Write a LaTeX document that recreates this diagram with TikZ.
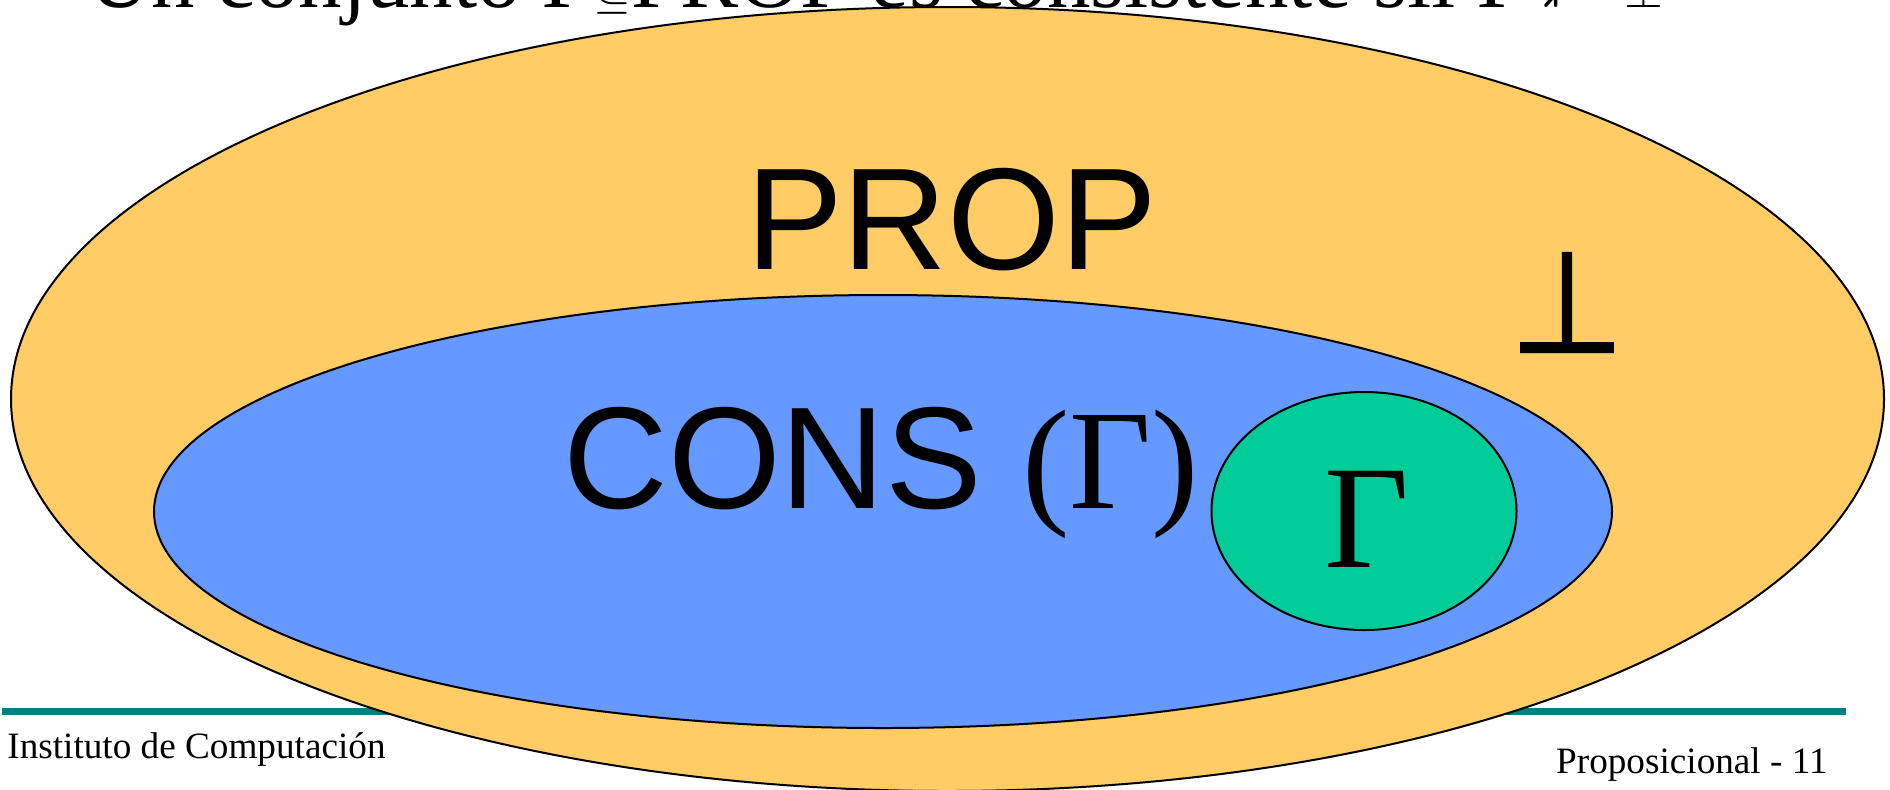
\documentclass[tikz,border=0pt]{standalone}
\usepackage{fontspec}
\usepackage{amssymb}
\usetikzlibrary{shapes.geometric}
\setmainfont{Liberation Serif}
\setsansfont{Liberation Sans}
\newfontfamily\symbolfont[FakeBold=1.6]{DejaVu Sans}
\definecolor{propfill}{HTML}{FFCC66}
\definecolor{consfill}{HTML}{6699FF}
\definecolor{gammafill}{HTML}{00CC99}
\definecolor{rulecolor}{HTML}{008080}

\begin{document}
\begin{tikzpicture}[x=0.5pt,y=-0.5pt,
  setshape/.style={ellipse, draw=black, line width=1pt, inner sep=0pt},
  bigsans/.style={inner sep=0pt, font=\sffamily\fontsize{72.5}{80}\selectfont},
  bigserif/.style={inner sep=0pt, font=\rmfamily\fontsize{73.5}{80}\selectfont},
  footer/.style={inner sep=0pt, font=\rmfamily\fontsize{18.6}{22}\selectfont},
  titletext/.style={inner sep=0pt, font=\rmfamily\fontsize{43.5}{48}\selectfont}]
\useasboundingbox (0,0) rectangle (1890,789);

% slide title (mostly above the visible area)
\node[titletext, anchor=base west] (title) at (88,7)
  {Un conjunto Γ$\subseteq$PROP es consistente sii Γ $\nvdash$ $\bot$};

% footer rule
\draw[rulecolor, line width=3.5pt] (2,711.5) -- (1846,711.5);

% nested sets
\node[setshape, fill=propfill, minimum width=936.5pt, minimum height=392pt] (prop) at (947.5,399) {};
\node[setshape, fill=consfill, minimum width=729pt, minimum height=216.5pt] (cons) at (883,511.5) {};
\node[setshape, fill=gammafill, minimum width=152.5pt, minimum height=119pt] (gamma) at (1364,511) {};

% labels
\node[bigsans, anchor=base] (proplabel) at (951.5,269) {PROP};
\node[bigsans, anchor=base west] (conslabel) at (563,508)
  {CONS {\rmfamily\fontsize{71}{80}\selectfont(Γ)}};
\node[bigserif, anchor=base] (gammalabel) at (1367,567) {Γ};
\node[inner sep=0pt, anchor=base] (bottom) at (1567,352)
  {\scalebox{1}[1.08]{\symbolfont\fontsize{65.5}{70}\selectfont ⊥}};

% footer texts
\node[footer, anchor=base west] (inst) at (7,758) {Instituto de Computación};
\node[footer, anchor=base east] (page) at (1828,773) {Proposicional - 11};
\end{tikzpicture}
\end{document}
